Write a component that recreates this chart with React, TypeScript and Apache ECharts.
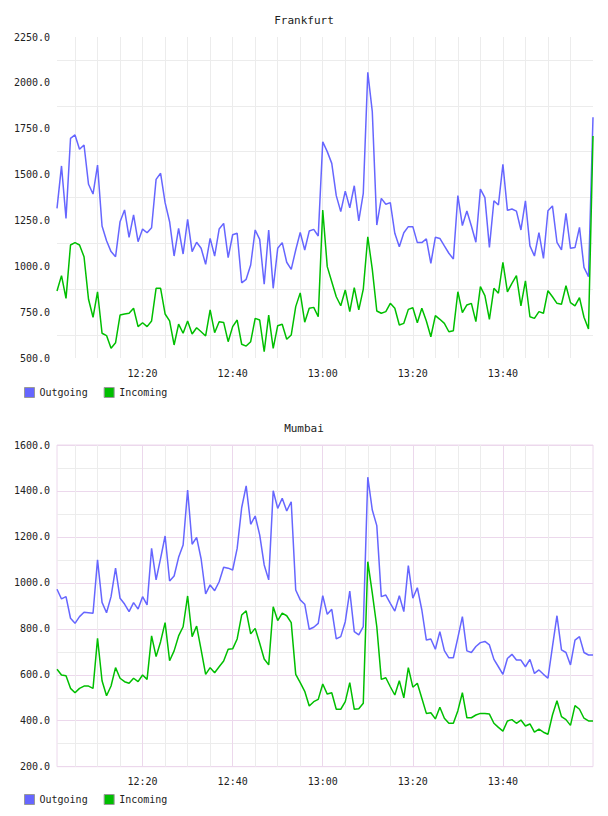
import { useEffect, useRef } from 'react';
import * as echarts from 'echarts';

// One sample per minute, 12:01 .. 14:00
const START_HOUR = 12;
const START_MINUTE = 1;
const SAMPLE_COUNT = 120;
const times: string[] = Array.from({ length: SAMPLE_COUNT }, (_, i) => {
  const total = START_HOUR * 60 + START_MINUTE + i;
  const h = Math.floor(total / 60);
  const m = total % 60;
  return `${h}:${m < 10 ? '0' + m : m}`;
});

const frankfurtOutgoing = [
  1316, 1547, 1261, 1697, 1716, 1638, 1661, 1447, 1394, 1552,
  1220, 1139, 1080, 1052, 1243, 1307, 1158, 1280, 1134, 1203,
  1183, 1210, 1474, 1507, 1347, 1243, 1056, 1207, 1067, 1256,
  1080, 1131, 1098, 1011, 1152, 1056, 1203, 1234, 1047, 1172,
  1180, 910, 929, 1007, 1198, 1147, 902, 1198, 880, 1098,
  1129, 1022, 983, 1089, 1185, 1089, 1192, 1201, 1165, 1679,
  1625, 1561, 1385, 1298, 1410, 1319, 1439, 1248, 1398, 2057,
  1843, 1225, 1370, 1338, 1347, 1180, 1107, 1183, 1216, 1216,
  1129, 1129, 1149, 1016, 1158, 1152, 1111, 1071, 1040, 1385,
  1222, 1301, 1220, 1131, 1421, 1374, 1103, 1357, 1334, 1556,
  1305, 1312, 1301, 1198, 1357, 1111, 1056, 1183, 1043, 1303,
  1329, 1131, 1089, 1289, 1098, 1102, 1212, 994, 943, 1812,
];

const frankfurtIncoming = [
  865, 949, 825, 1116, 1129, 1116, 1052, 820, 722, 861,
  635, 622, 553, 583, 734, 740, 744, 771, 671, 692,
  671, 702, 880, 880, 740, 702, 571, 685, 635, 702,
  631, 665, 643, 620, 762, 638, 698, 694, 589, 671,
  707, 575, 565, 589, 716, 707, 534, 734, 553, 676,
  684, 602, 625, 780, 855, 695, 771, 776, 725, 1307,
  998, 916, 834, 785, 871, 753, 884, 762, 875, 1161,
  983, 756, 744, 753, 798, 771, 680, 689, 765, 774,
  692, 771, 702, 616, 731, 711, 689, 643, 649, 861,
  747, 789, 798, 698, 889, 840, 711, 880, 853, 1022,
  861, 907, 949, 784, 921, 725, 716, 753, 744, 867,
  834, 798, 793, 894, 802, 784, 829, 722, 658, 1710,
];

const mumbaiOutgoing = [
  972, 930, 940, 846, 824, 853, 872, 870, 868, 1100,
  915, 870, 940, 1064, 933, 908, 875, 914, 886, 940,
  904, 1150, 1013, 1107, 1204, 1008, 1030, 1111, 1165, 1404,
  1168, 1198, 1104, 952, 991, 966, 1005, 1068, 1064, 1056,
  1150, 1327, 1422, 1255, 1291, 1209, 1078, 1013, 1401, 1324,
  1368, 1313, 1353, 969, 926, 907, 798, 807, 824, 944,
  863, 885, 756, 766, 831, 964, 788, 774, 810, 1460,
  1317, 1249, 940, 947, 911, 877, 944, 875, 1075, 933,
  979, 882, 751, 756, 711, 788, 705, 674, 674, 762,
  853, 704, 697, 723, 740, 745, 730, 667, 635, 602,
  671, 689, 664, 664, 635, 667, 606, 621, 602, 585,
  723, 857, 708, 697, 643, 751, 766, 697, 686, 686,
];

const mumbaiIncoming = [
  624, 599, 596, 541, 522, 541, 551, 551, 541, 759,
  574, 509, 551, 631, 585, 570, 563, 585, 570, 599,
  580, 769, 679, 744, 827, 661, 704, 769, 809, 943,
  766, 812, 708, 602, 631, 609, 635, 660, 711, 713,
  756, 860, 878, 778, 802, 737, 669, 643, 896, 836,
  868, 857, 827, 602, 566, 528, 464, 483, 493, 560,
  516, 522, 450, 450, 483, 566, 450, 452, 476, 1092,
  955, 809, 580, 587, 548, 512, 574, 500, 631, 546,
  563, 498, 432, 435, 408, 459, 411, 389, 389, 444,
  522, 413, 413, 425, 432, 432, 429, 389, 371, 355,
  399, 405, 389, 403, 377, 386, 350, 363, 350, 341,
  425, 487, 418, 405, 380, 466, 450, 411, 399, 399,
];

const legendNames = ['Outgoing', 'Incoming'];
const frankfurtRange = { min: 500, max: 2250, step: 250 };
const mumbaiRange = { min: 200, max: 1600, step: 200 };

const FONT = '"DejaVu Sans Mono", monospace';
const TEXT = '#222';
const BLUE = '#6666ff';
const GREEN = '#00bf00';
const MINOR = '#ececec';
const MAJOR = '#ecd8ec';

// minute offset from 12:00 for a category index
const minuteOf = (i: number) => START_MINUTE + i;
const isLabelTick = (i: number) => minuteOf(i) % 20 === 0 && minuteOf(i) < 120;
const isFiveMinute = (i: number) => minuteOf(i) % 5 === 0 && minuteOf(i) < 120;

const labelStyle = { color: TEXT, fontFamily: FONT, fontSize: 10 };

export default function App() {
  const ref = useRef<HTMLDivElement>(null);

  useEffect(() => {
    if (!ref.current) return;
    const chart = echarts.init(ref.current, undefined, { renderer: 'svg' });

    const baseX = {
      type: 'category' as const,
      data: times,
      boundaryGap: false,
      axisLine: { show: false },
      axisTick: { show: false },
    };

    const lineSeries = (name: string, data: number[], color: string, idx: number) => ({
      name,
      type: 'line' as const,
      data,
      xAxisIndex: idx === 0 ? 0 : 1,
      yAxisIndex: idx,
      symbol: 'none',
      showSymbol: false,
      color,
      lineStyle: { color, width: 1.5 },
      z: 3,
    });

    chart.setOption({
      animation: false,
      backgroundColor: '#fff',
      title: [
        {
          text: 'Frankfurt', left: 'center', top: 15, padding: 0,
          textStyle: { fontFamily: FONT, fontSize: 11, fontWeight: 'normal', color: TEXT },
        },
        {
          text: 'Mumbai', left: 'center', top: 423, padding: 0,
          textStyle: { fontFamily: FONT, fontSize: 11, fontWeight: 'normal', color: TEXT },
        },
      ],
      legend: [387, 794].map((top) => ({
        data: legendNames,
        left: 24,
        top,
        padding: 0,
        icon: 'rect',
        itemWidth: 10,
        itemHeight: 10,
        itemGap: 16,
        itemStyle: { borderColor: '#999', borderWidth: 1 },
        textStyle: { ...labelStyle },
        selectedMode: false,
      })),
      grid: [
        { left: 57, right: 15, top: 37, height: 321, show: false },
        {
          left: 57, right: 15, top: 445, height: 321.7, show: true,
          borderColor: MAJOR, borderWidth: 1, backgroundColor: 'transparent',
        },
      ],
      xAxis: [
        {
          ...baseX,
          gridIndex: 0,
          axisLabel: { ...labelStyle, margin: 10, interval: (i: number) => isLabelTick(i) },
          splitLine: { show: true, interval: (i: number) => isFiveMinute(i), lineStyle: { color: MINOR, width: 1 } },
        },
        {
          ...baseX,
          gridIndex: 1,
          axisLabel: { ...labelStyle, margin: 10, interval: (i: number) => isLabelTick(i) },
          splitLine: { show: true, interval: (i: number) => isLabelTick(i), lineStyle: { color: MAJOR, width: 1 } },
        },
        {
          ...baseX,
          gridIndex: 1,
          position: 'bottom',
          axisLabel: { show: false },
          splitLine: {
            show: true,
            interval: (i: number) => isFiveMinute(i) && !isLabelTick(i),
            lineStyle: { color: MINOR, width: 1 },
          },
        },
      ],
      yAxis: [
        {
          type: 'value', gridIndex: 0,
          min: frankfurtRange.min, max: frankfurtRange.max, interval: frankfurtRange.step,
          axisLine: { show: false }, axisTick: { show: false },
          axisLabel: { ...labelStyle, margin: 7, formatter: (v: number) => v.toFixed(1) },
          splitLine: { show: false },
          minorTick: { show: false, splitNumber: 2 },
          minorSplitLine: { show: true, lineStyle: { color: MINOR, width: 1 } },
        },
        {
          type: 'value', gridIndex: 1,
          min: mumbaiRange.min, max: mumbaiRange.max, interval: mumbaiRange.step,
          axisLine: { show: false }, axisTick: { show: false },
          axisLabel: { ...labelStyle, margin: 7, formatter: (v: number) => v.toFixed(1) },
          splitLine: { show: true, lineStyle: { color: MAJOR, width: 1 } },
          minorTick: { show: false, splitNumber: 2 },
          minorSplitLine: { show: true, lineStyle: { color: MINOR, width: 1 } },
        },
      ],
      series: [
        lineSeries('Outgoing', frankfurtOutgoing, BLUE, 0),
        lineSeries('Incoming', frankfurtIncoming, GREEN, 0),
        lineSeries('Outgoing', mumbaiOutgoing, BLUE, 1),
        lineSeries('Incoming', mumbaiIncoming, GREEN, 1),
      ],
    });

    return () => chart.dispose();
  }, []);

  return (
    <div
      ref={ref}
      style={{ position: 'fixed', left: 0, top: 0, width: 608, height: 816, background: '#fff' }}
    />
  );
}
